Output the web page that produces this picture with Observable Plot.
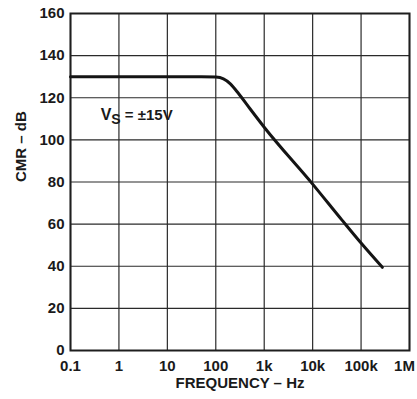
<!DOCTYPE html>
<html>
<head>
<meta charset="utf-8">
<script src="https://cdn.jsdelivr.net/npm/d3@7"></script>
<script src="https://cdn.jsdelivr.net/npm/@observablehq/plot@0.6"></script>
<style>
  html, body { margin: 0; padding: 0; background: #fff; }
  #chart svg { display: block; }
</style>
</head>
<body>
<div id="chart"></div>
<script>
// Common-mode rejection vs. frequency
const freqHz = [0.1, 1, 10, 50, 100, 144, 200, 295, 500, 1000, 10000, 40000, 100000, 275000];
const cmrDb  = [130, 130, 130, 130, 129.8, 129, 126.6, 122, 115, 106, 79, 62, 51, 39.5];

// Axis ticks and labels
const xTickValues = [0.1, 1, 10, 100, 1e3, 1e4, 1e5, 1e6];
const xTickLabels = ["0.1", "1", "10", "100", "1k", "10k", "100k", "1M"];
const yTickValues = [0, 20, 40, 60, 80, 100, 120, 140, 160];

const xTitle = "FREQUENCY – Hz";
const yTitle = "CMR – dB";
const supplyNote = "VS = ±15V";
const supplyNoteAt = {f: 0.42, v: 111.5};

const curve = freqHz.map((f, i) => ({f, v: cmrDb[i]}));
const labelOf = new Map(xTickValues.map((v, i) => [v, xTickLabels[i]]));
const lastTick = xTickValues[xTickValues.length - 1];

const gridColor = "#2a2a2a";
const xAxisOptions = {tickFormat: d => labelOf.get(d), tickSize: 0, tickPadding: 10, label: null};

const chart = Plot.plot({
  width: 417,
  height: 399,
  marginLeft: 70,
  marginRight: 8,
  marginTop: 13,
  marginBottom: 49,
  style: {
    fontFamily: "'Liberation Sans', Arial, Helvetica, sans-serif",
    fontSize: "15px",
    fontWeight: "bold",
    color: "#1a1a1a",
    background: "#fff"
  },
  x: {type: "log", domain: [0.1, 1e6]},
  y: {domain: [0, 160]},
  marks: [
    Plot.ruleX(xTickValues, {stroke: gridColor, strokeWidth: 1.2}),
    Plot.ruleY(yTickValues, {stroke: gridColor, strokeWidth: 1.2}),
    Plot.frame({stroke: "#1e1e1e", strokeWidth: 2}),
    Plot.axisX({...xAxisOptions, ticks: xTickValues.slice(0, -1)}),
    // the last label sits at the right edge; nudge it inward
    Plot.axisX({...xAxisOptions, ticks: [lastTick], dx: -5}),
    Plot.axisY({
      ticks: yTickValues,
      tickSize: 0,
      tickPadding: 6,
      label: null
    }),
    Plot.line(curve, {x: "f", y: "v", stroke: "#141414", strokeWidth: 3, curve: "monotone-x"}),
    Plot.text([supplyNote], {
      x: () => supplyNoteAt.f, y: () => supplyNoteAt.v,
      text: d => d, textAnchor: "start", fontSize: 15
    }),
    Plot.text([xTitle], {frameAnchor: "bottom", dy: 37, text: d => d, fontSize: 15}),
    Plot.text([yTitle], {frameAnchor: "left", dx: -49, rotate: -90, text: d => d, fontSize: 15})
  ]
});

// Subscript "S" in the supply-voltage note
d3.select(chart).selectAll("text")
  .filter(function () { return this.textContent === supplyNote; })
  .each(function () {
    const t = d3.select(this);
    t.text(null);
    t.append("tspan").attr("font-size", 16).text("V");
    t.append("tspan").attr("dy", 4).attr("font-size", 14).text("S");
    t.append("tspan").attr("dy", -4).text("\u00a0=\u00a0±15V");
  });

document.getElementById("chart").append(chart);
</script>
</body>
</html>
